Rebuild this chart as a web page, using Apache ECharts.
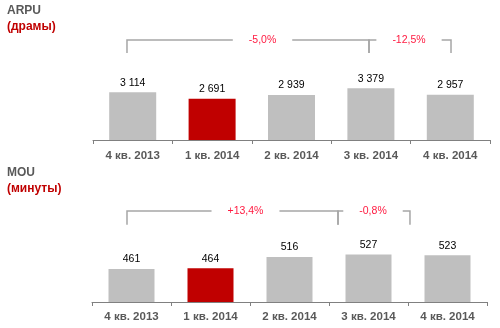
<!DOCTYPE html>
<html><head><meta charset="utf-8">
<script src="https://cdn.jsdelivr.net/npm/echarts@6/dist/echarts.min.js"></script>
<style>html,body{margin:0;padding:0;background:#fff}#c{width:500px;height:328px}</style>
</head><body><div id="c"></div>
<script>
// ---- data ----
const categories = ['4 кв. 2013', '1 кв. 2014', '2 кв. 2014', '3 кв. 2014', '4 кв. 2014'];
const arpuValues = [3114, 2691, 2939, 3379, 2957];
const mouValues = [461, 464, 516, 527, 523];
const highlightIndex = 1;
const arpuChanges = ['-5,0%', '-12,5%'];
const mouChanges = ['+13,4%', '-0,8%'];
const titles = ['ARPU', 'MOU'];
const units = ['(драмы)', '(минуты)'];

// ---- layout (bracket spans in category-band units) ----
const arpuBrackets = [{from: -0.072, to: 2.976, at: 1.635}, {from: 2.976, to: 4.009, at: 3.48}];
const mouBrackets = [{from: -0.057, to: 2.614, at: 1.443}, {from: 2.614, to: 3.525, at: 3.057}];

const FONT = '"Liberation Sans", Arial, sans-serif';
const GRAY = '#BFBFBF', RED = '#C00000';
const fmt = v => String(v).replace(/\B(?=(\d{3})+(?!\d))/g, ' ');

function barSeries(idx, values, width) {
  return {
    type: 'bar', xAxisIndex: idx, yAxisIndex: idx, barWidth: width,
    data: values.map((v, i) => ({value: v, itemStyle: {color: i === highlightIndex ? RED : GRAY}})),
    label: {show: true, position: 'top', distance: 4, fontSize: 10.5, color: '#000', fontFamily: FONT,
      formatter: p => fmt(p.value)},
    silent: true
  };
}

function bracketSeries(idx, labels, layout, topOff, botOff, baseVal) {
  return {
    type: 'custom', xAxisIndex: idx, yAxisIndex: idx, silent: true, clip: false, z: 5,
    data: labels.map((l, i) => [i, baseVal]),
    renderItem(params, api) {
      const i = api.value(0);
      const L = layout[i];
      const cs = params.coordSys;
      const x0 = api.coord([0, baseVal])[0];
      const band = api.coord([1, baseVal])[0] - x0;
      const X = f => x0 + f * band;
      const yt = cs.y + topOff, yb = cs.y + botOff;
      const x1 = X(L.from), x2 = X(L.to);
      return {
        type: 'group',
        children: [
          {type: 'polyline', shape: {points: [[x1, yb], [x1, yt], [x2, yt], [x2, yb]]},
            style: {stroke: '#A6A6A6', lineWidth: 1.5, fill: null}},
          {type: 'text', style: {text: labels[i], x: X(L.at), y: yt, align: 'center', verticalAlign: 'middle',
            fill: '#FF1A40', font: '10.5px ' + FONT, backgroundColor: '#fff', padding: [2, 16]}}
        ]
      };
    }
  };
}

function xAxis(idx) {
  return {
    type: 'category', gridIndex: idx, data: categories,
    axisLine: {lineStyle: {color: '#808080', width: 1}},
    axisTick: {show: true, length: 4, lineStyle: {color: '#808080'}},
    axisLabel: {color: '#595959', fontWeight: 'bold', fontSize: 11.5, margin: idx === 0 ? 10 : 9, fontFamily: FONT}
  };
}

const chart = echarts.init(document.getElementById('c'), null, {renderer: 'canvas'});
chart.setOption({
  animation: false,
  backgroundColor: '#fff',
  title: [0, 1].map(k => ({
    left: 7, top: k === 0 ? 5 : 167, padding: 0, itemGap: 4,
    text: titles[k], subtext: units[k],
    textStyle: {fontSize: 12, fontWeight: 'bold', color: '#595959', fontFamily: FONT},
    subtextStyle: {fontSize: 12, fontWeight: 'bold', color: RED, fontFamily: FONT}
  })),
  grid: [
    {left: 93, right: 10, top: 48, height: 92},
    {left: 92, right: 13, top: 210, height: 92}
  ],
  xAxis: [xAxis(0), xAxis(1)],
  yAxis: [
    {type: 'value', gridIndex: 0, min: 0, max: 6000, show: false},
    {type: 'value', gridIndex: 1, min: 310, max: 730, show: false}
  ],
  series: [
    barSeries(0, arpuValues, 47),
    barSeries(1, mouValues, 46),
    bracketSeries(0, arpuChanges, arpuBrackets, -8, 5, 0),
    bracketSeries(1, mouChanges, mouBrackets, 1, 14.7, 310)
  ]
});
</script></body></html>
